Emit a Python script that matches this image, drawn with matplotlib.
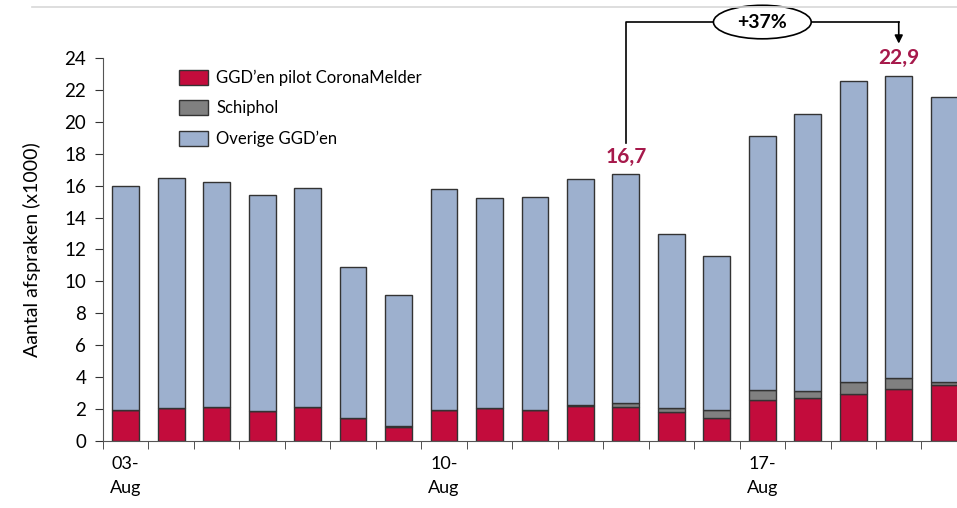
import matplotlib
matplotlib.use("Agg")
import matplotlib.pyplot as plt
from matplotlib.patches import Patch, Ellipse
from matplotlib.lines import Line2D
import numpy as np

plt.rcParams['font.family'] = ['Lato', 'DejaVu Sans']

days = ["03-\nAug", "", "", "", "", "", "", "10-\nAug", "", "", "", "", "", "", "17-\nAug", "", "", "", ""]
totals = [16.0, 16.5, 16.2, 15.4, 15.85, 10.9, 9.15, 15.8, 15.2, 15.3, 16.4, 16.7, 12.95, 11.6, 19.1, 20.5, 22.55, 22.9, 21.55]
pilot = [1.94, 2.07, 2.13, 1.9, 2.13, 1.42, 0.9, 1.94, 2.07, 1.93, 2.19, 2.15, 1.84, 1.46, 2.57, 2.71, 2.97, 3.26, 3.51]
schiphol = [0, 0, 0, 0, 0, 0, 0.03, 0, 0, 0, 0.08, 0.2, 0.2, 0.48, 0.6, 0.45, 0.75, 0.67, 0.16]
overige = [t - p - s for t, p, s in zip(totals, pilot, schiphol)]

series_names = ["GGD\u2019en pilot CoronaMelder", "Schiphol", "Overige GGD\u2019en"]
colors = ["#C30C3C", "#808080", "#9DB0CE"]
label_color = "#A6194B"
yticks = list(range(0, 25, 2))

fig = plt.figure(figsize=(9.57, 5.08), dpi=100)
ax = fig.add_axes([0.1076, 0.1319, 0.9028, 0.754])

x = np.arange(len(totals))
w = 0.59
edge = "#333333"
ax.bar(x, pilot, w, color=colors[0], edgecolor=edge, linewidth=1)
ax.bar(x, schiphol, w, bottom=pilot, color=colors[1], edgecolor=edge, linewidth=1)
ax.bar(x, overige, w, bottom=np.array(pilot) + np.array(schiphol), color=colors[2], edgecolor=edge, linewidth=1)

ax.set_xlim(-0.5, len(totals) - 0.5)
ax.set_ylim(0, 24)
ax.set_yticks(yticks)
ax.set_yticklabels([str(v) for v in yticks], fontsize=13.5)
ax.set_xticks(x)
ax.set_xticklabels(days, fontsize=13, linespacing=1.6)
ax.set_xticks(np.arange(-0.5, len(totals), 1), minor=True)
ax.tick_params(axis='x', which='major', length=0, pad=11)
ax.tick_params(axis='x', which='minor', length=6, direction='out', color='#333333')
ax.tick_params(axis='y', length=6, direction='out', pad=6, color='#333333')
for s in ['top', 'right']:
    ax.spines[s].set_visible(False)
for s in ['left', 'bottom']:
    ax.spines[s].set_color('#555555')
ax.set_ylabel("Aantal afspraken (x1000)", fontsize=14, labelpad=17)

handles = [Patch(facecolor=c, edgecolor=edge, linewidth=1) for c in colors]
ax.legend(handles, series_names, loc='upper left', bbox_to_anchor=(0.075, 1.0),
          frameon=False, fontsize=12, handlelength=1.7, handleheight=1.0,
          labelspacing=0.85, handletextpad=0.5, borderaxespad=0.3)

# value labels
i1, i2 = 11, 17
ax.text(i1, totals[i1] + 0.45, "16,7", ha='center', va='bottom', color=label_color,
        fontsize=15, fontweight='bold')
ax.text(i2, totals[i2] + 0.45, "22,9", ha='center', va='bottom', color=label_color,
        fontsize=15, fontweight='bold')

# bracket
ytop = 26.25
ax.plot([i1, i1, i2], [totals[i1] + 2.0, ytop, ytop], color='black', lw=1.2, clip_on=False)
ax.annotate("", xy=(i2, 24.9), xytext=(i2, ytop),
            arrowprops=dict(arrowstyle='-|>', color='black', lw=1.2, mutation_scale=12,
                            shrinkA=0, shrinkB=0),
            annotation_clip=False)
mid = (i1 + i2) / 2
ell = Ellipse((mid, ytop), 2.15, 2.1, facecolor='white', edgecolor='black', lw=1.2,
              clip_on=False, zorder=5)
ax.add_patch(ell)
ax.text(mid, ytop, "+37%", ha='center', va='center', fontsize=14, fontweight='bold',
        zorder=6, clip_on=False)

fig.add_artist(Line2D([0.033, 1.0], [0.986, 0.986], color='#d8d8d8', lw=1.2))

fig.savefig("out.png", dpi=100)
